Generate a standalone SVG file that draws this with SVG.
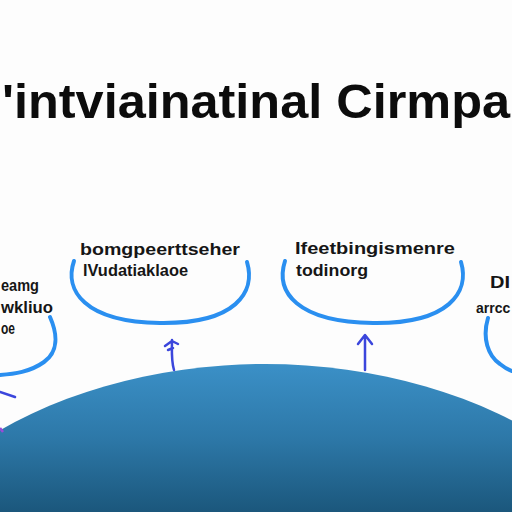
<svg xmlns="http://www.w3.org/2000/svg" width="512" height="512" viewBox="0 0 512 512">
<defs>
<linearGradient id="globe" x1="0" y1="364" x2="0" y2="512" gradientUnits="userSpaceOnUse">
<stop offset="0" stop-color="#3b90c7"/>
<stop offset="0.5" stop-color="#2d78a8"/>
<stop offset="1" stop-color="#1b577c"/>
</linearGradient>
</defs>
<style>
.title{font-family:"Liberation Sans",Arial,sans-serif;font-weight:bold;font-size:49px;fill:#0c0c0c}
.lbl{font-family:"Liberation Sans",Arial,sans-serif;font-weight:bold;font-size:17px;fill:#161616}
.brk{fill:none;stroke:#2a8ff0;stroke-width:4;stroke-linecap:round}
.arr{fill:none;stroke:#3b46dc;stroke-width:2.5;stroke-linecap:round;stroke-linejoin:round}
</style>
<rect width="512" height="512" fill="#fdfdfd"/>
<text class="title" x="2" y="118" textLength="508" lengthAdjust="spacingAndGlyphs">'intviainatinal Cirmpa</text>

<g id="globe-shape">
<ellipse cx="265" cy="659" rx="420" ry="295" fill="url(#globe)"/>
</g>

<g id="node-left">
<path class="brk" d="M50 317 C58 335 58 352 44 362 C30 372 14 374 0 375"/>
<text class="lbl" x="1" y="291" textLength="38" lengthAdjust="spacingAndGlyphs">eamg</text>
<text class="lbl" x="1" y="313" textLength="52" lengthAdjust="spacingAndGlyphs">wkliuo</text>
<text class="lbl" x="1" y="334" textLength="14" lengthAdjust="spacingAndGlyphs">oe</text>
</g>

<g id="node-1">
<path class="brk" d="M74 261 C64 290 84 322 160 323 C236 324 256 292 247 262"/>
<text class="lbl" x="80" y="255" textLength="160" lengthAdjust="spacingAndGlyphs">bomgpeerttseher</text>
<text class="lbl" x="83" y="276" textLength="105" lengthAdjust="spacingAndGlyphs">lVudatiaklaoe</text>
</g>

<g id="node-2">
<path class="brk" d="M285 261 C275 292 297 322 373 323 C449 324 470 292 461 262"/>
<text class="lbl" x="295" y="254" textLength="160" lengthAdjust="spacingAndGlyphs">Ifeetbingismenre</text>
<text class="lbl" x="296" y="276" textLength="72" lengthAdjust="spacingAndGlyphs">todinorg</text>
</g>

<g id="node-3">
<path class="brk" d="M488 318 C482 338 488 356 500 364 C505 368 509 370 512 371"/>
<text class="lbl" x="490" y="288" textLength="20" lengthAdjust="spacingAndGlyphs">DI</text>
<text class="lbl" x="476" y="313" style="font-size:14px">arrcc</text>
</g>

<g id="connectors">
<path class="arr" d="M174 370 C171 360 172 350 172 340 M165 346 L172 341 L178 344 M168 350 L173 348"/>
<path class="arr" d="M365 370 L365 336 M358 344 L365 335 L372 344"/>
<path class="arr" d="M0 392 L15 397"/>
<path d="M0 428 L3 432" stroke="#9a4ad8" stroke-width="2.5" fill="none"/>
</g>
</svg>
